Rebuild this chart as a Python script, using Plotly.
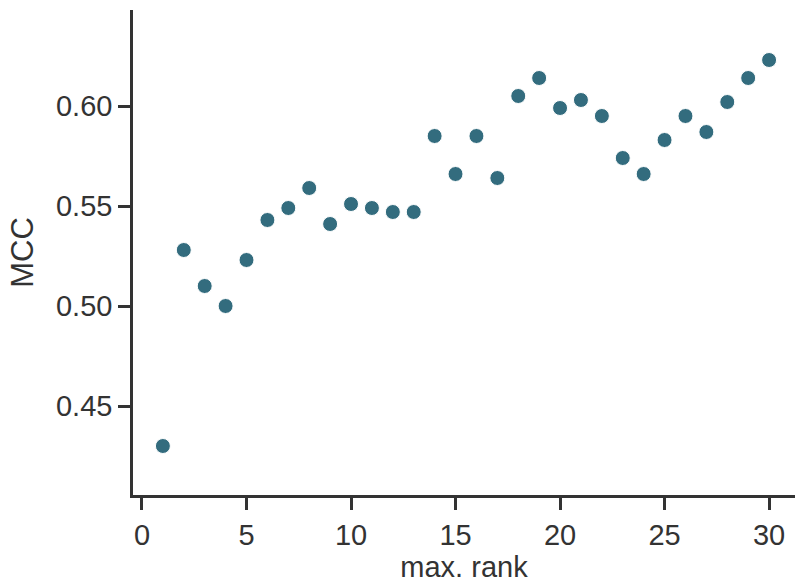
import plotly.graph_objects as go

max_rank = list(range(1, 31))
mcc = [0.430, 0.528, 0.510, 0.500, 0.523, 0.543, 0.549, 0.559, 0.541, 0.551,
       0.549, 0.547, 0.547, 0.585, 0.566, 0.585, 0.564, 0.605, 0.614, 0.599,
       0.603, 0.595, 0.574, 0.566, 0.583, 0.595, 0.587, 0.602, 0.614, 0.623]
x_ticks = [0, 5, 10, 15, 20, 25, 30]
y_ticks = [0.45, 0.50, 0.55, 0.60]
y_tick_labels = ["0.45", "0.50", "0.55", "0.60"]

FONT = "Liberation Sans, Arial"
TXT = "#333333"

fig = go.Figure()
fig.add_trace(go.Scatter(
    x=max_rank, y=mcc, mode="markers",
    marker=dict(size=15, color="#336c7e", line=dict(color="white", width=1)),
    cliponaxis=False,
))

axis_common = dict(
    showline=True, linecolor=TXT, linewidth=2.5,
    ticks="outside", ticklen=12, tickwidth=2.5, tickcolor=TXT,
    showgrid=False, zeroline=False,
    tickfont=dict(family=FONT, size=29, color=TXT),
)

fig.update_layout(
    width=795, height=588,
    margin=dict(l=133, r=0, t=10, b=93),
    plot_bgcolor="white", paper_bgcolor="white",
    showlegend=False,
    xaxis=dict(range=[-0.43, 31.24], tickvals=x_ticks,
               title=dict(text="max. rank", standoff=4,
                          font=dict(family=FONT, size=29, color=TXT)),
               **axis_common),
    yaxis=dict(range=[0.4055, 0.648], tickvals=y_ticks, ticktext=y_tick_labels,
               title=dict(text="MCC", standoff=14,
                          font=dict(family=FONT, size=31, color=TXT)),
               **axis_common),
)

fig.write_html("out.html")
